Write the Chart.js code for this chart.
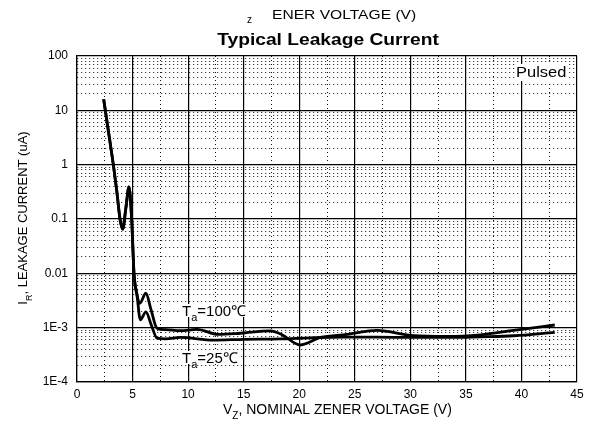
<!DOCTYPE html>
<html>
<head>
<meta charset="utf-8">
<script src="https://cdn.jsdelivr.net/npm/chart.js@4.4.1/dist/chart.umd.min.js"></script>
<style>
  html, body { margin: 0; padding: 0; background: #fff; }
  #wrap { width: 591px; height: 427px; }
</style>
</head>
<body>
<div id="wrap"><canvas id="grafico"></canvas></div>
<script>
// valores
const vz100 = [2.4, 2.8, 3.27, 3.57, 3.87, 4.11, 4.4, 4.68, 4.92, 5.13, 5.4, 5.65, 6.2, 6.65, 7.2, 8.0, 9.3, 10.8, 12.7, 14.7, 17.4, 18.4, 20.1, 21.9, 24.3, 27.0, 30.3, 33.3, 36.3, 39.3, 43.0];
const ir100 = [16, 4.5, 1.0, 0.34, 0.1, 0.065, 0.16, 0.39, 0.1, 0.01, 0.004, 0.0028, 0.0043, 0.0022, 0.00098, 0.00092, 0.00088, 0.00093, 0.00075, 0.00079, 0.00087, 0.00075, 0.00048, 0.00066, 0.00075, 0.00089, 0.00071, 0.00069, 0.00074, 0.00089, 0.00112];

const vz25 = [2.4, 2.8, 3.27, 3.57, 3.87, 4.11, 4.4, 4.68, 4.92, 5.13, 5.4, 5.7, 6.2, 6.7, 7.2, 8.0, 9.3, 12.3, 15.0, 18.3, 21.0, 24.0, 27.0, 30.0, 33.3, 36.3, 39.3, 43.0];
const ir25 = [16, 4.5, 1.0, 0.34, 0.1, 0.065, 0.16, 0.39, 0.1, 0.01, 0.004, 0.0014, 0.00195, 0.0011, 0.00064, 0.00062, 0.00066, 0.00059, 0.00061, 0.00062, 0.00065, 0.00067, 0.00067, 0.00066, 0.00066, 0.00068, 0.00071, 0.00082];

const xLabels = ['0', '5', '10', '15', '20', '25', '30', '35', '40', '45'];
const yDecades = [1e-4, 1e-3, 0.01, 0.1, 1, 10, 100];
const yLabels = ['1E-4', '1E-3', '0.01', '0.1', '1', '10', '100'];

const FONTE = '"Liberation Sans", Arial, Helvetica, sans-serif';

function pares(xs, ys) {
  return xs.map((x, i) => ({ x: x, y: ys[i] }));
}

// texto com subscrito: partes = [[texto, subscrito?], ...]
function escreve(ctx, x, y, partes, tam) {
  partes.forEach(p => {
    const sub = p[1];
    ctx.font = (sub ? tam - 4 : tam) + 'px ' + FONTE;
    ctx.fillText(p[0], x, sub ? y + 5 : y);
    x += ctx.measureText(p[0]).width;
  });
  return x;
}

function largura(ctx, partes, tam) {
  let w = 0;
  partes.forEach(p => {
    ctx.font = (p[1] ? tam - 4 : tam) + 'px ' + FONTE;
    w += ctx.measureText(p[0]).width;
  });
  return w;
}

// texto esticado na horizontal (sx)
function esticado(ctx, txt, x, y, fonte, sx, centro) {
  ctx.save();
  ctx.font = fonte;
  const w = ctx.measureText(txt).width * sx;
  const x0 = centro ? x - w / 2 : x;
  ctx.translate(x0, y);
  ctx.scale(sx, 1);
  ctx.textAlign = 'left';
  ctx.fillText(txt, 0, 0);
  ctx.restore();
  return w;
}

const textos = {
  id: 'textos',
  afterDatasetsDraw(chart) {
    const ctx = chart.ctx;
    ctx.save();
    ctx.textBaseline = 'alphabetic';
    ctx.textAlign = 'left';

    // rótulos das curvas
    const rotulos = [
      { x: 182, y: 316, partes: [['T'], ['a', true], ['=100\u2103']] },
      { x: 182, y: 363, partes: [['T'], ['a', true], ['=25\u2103']] }
    ];
    rotulos.forEach(r => {
      const w = largura(ctx, r.partes, 15);
      ctx.fillStyle = '#fff';
      ctx.fillRect(r.x - 1, r.y - 12, w + 2, 13);
      ctx.fillStyle = '#000';
      escreve(ctx, r.x, r.y, r.partes, 15);
    });

    // Pulsed
    ctx.font = '15px ' + FONTE;
    const wp = ctx.measureText('Pulsed').width * 1.1;
    ctx.fillStyle = '#fff';
    ctx.fillRect(515, 64, wp + 2, 17);
    ctx.fillStyle = '#000';
    esticado(ctx, 'Pulsed', 516, 77, '15px ' + FONTE, 1.1, false);
    ctx.restore();
  },
  afterDraw(chart) {
    const ctx = chart.ctx;
    ctx.save();
    ctx.fillStyle = '#000';
    ctx.textBaseline = 'alphabetic';
    ctx.textAlign = 'left';

    // cabeçalho
    ctx.font = '10px ' + FONTE;
    ctx.fillText('z', 247, 23);
    esticado(ctx, 'ENER VOLTAGE (V)', 272, 19, '13px ' + FONTE, 1.2, false);
    esticado(ctx, 'Typical Leakage Current', 328, 45, 'bold 16px ' + FONTE, 1.2, true);

    // título eixo x
    escreve(ctx, 223, 414, [['V'], ['Z', true], [', NOMINAL ZENER VOLTAGE (V)']], 14);

    // título eixo y
    const partesY = [['I'], ['R', true], [', LEAKAGE CURRENT (uA)']];
    const wy = largura(ctx, partesY, 13);
    ctx.translate(27, 218);
    ctx.rotate(-Math.PI / 2);
    escreve(ctx, -wy / 2, 0, partesY, 13);
    ctx.restore();
  }
};

const eixoX = {
  type: 'linear',
  min: 0,
  max: 45,
  afterBuildTicks: s => {
    const t = [];
    for (let i = 0; i <= 18; i++) t.push({ value: i * 2.5, dec: i % 2 === 0 });
    s.ticks = t;
  },
  afterFit: s => { s.height = 26; },
  ticks: {
    autoSkip: false,
    maxRotation: 0,
    padding: 5,
    color: '#000',
    font: { family: FONTE, size: 12 },
    callback: (v, i) => (i % 2 === 0 ? xLabels[i / 2] : '')
  },
  grid: {
    drawTicks: false,
    color: c => (c.tick && c.tick.dec ? '#000' : '#111'),
    lineWidth: c => (c.tick && c.tick.dec ? 1.2 : 1)
  },
  border: {
    display: true,
    color: '#000',
    width: 1.2,
    dash: c => (c.tick && !c.tick.dec ? [1, 3] : [])
  }
};

const eixoY = {
  type: 'logarithmic',
  min: 1e-4,
  max: 100,
  afterBuildTicks: s => {
    const t = [];
    for (let d = 0; d < yDecades.length - 1; d++) {
      for (let k = 1; k <= 9; k++) t.push({ value: yDecades[d] * k, dec: k === 1, rot: k === 1 ? yLabels[d] : '' });
    }
    t.push({ value: yDecades[yDecades.length - 1], dec: true, rot: yLabels[yLabels.length - 1] });
    s.ticks = t;
  },
  afterFit: s => { s.width = 40; },
  ticks: {
    autoSkip: false,
    padding: 9,
    color: '#000',
    font: { family: FONTE, size: 12 },
    callback: function (v, i, ticks) { return ticks[i].rot; }
  },
  grid: {
    drawTicks: false,
    color: c => (c.tick && c.tick.dec ? '#000' : '#111'),
    lineWidth: c => (c.tick && c.tick.dec ? 1.2 : 1)
  },
  border: {
    display: true,
    color: '#000',
    width: 1.2,
    dash: c => (c.tick && !c.tick.dec ? [1, 3] : [])
  }
};

new Chart(document.getElementById('grafico'), {
  type: 'line',
  data: {
    datasets: [
      {
        label: 'Ta=100\u2103',
        data: pares(vz100, ir100),
        borderColor: '#000',
        borderWidth: 2.8,
        pointRadius: 0,
        fill: false,
        cubicInterpolationMode: 'monotone'
      },
      {
        label: 'Ta=25\u2103',
        data: pares(vz25, ir25),
        borderColor: '#000',
        borderWidth: 2.8,
        pointRadius: 0,
        fill: false,
        cubicInterpolationMode: 'monotone'
      }
    ]
  },
  options: {
    responsive: true,
    maintainAspectRatio: false,
    animation: false,
    layout: { padding: { left: 37, right: 14, top: 56, bottom: 19 } },
    plugins: {
      legend: { display: false },
      tooltip: { enabled: false },
      title: { display: false }
    },
    scales: { x: eixoX, y: eixoY }
  },
  plugins: [textos]
});
</script>
</body>
</html>
